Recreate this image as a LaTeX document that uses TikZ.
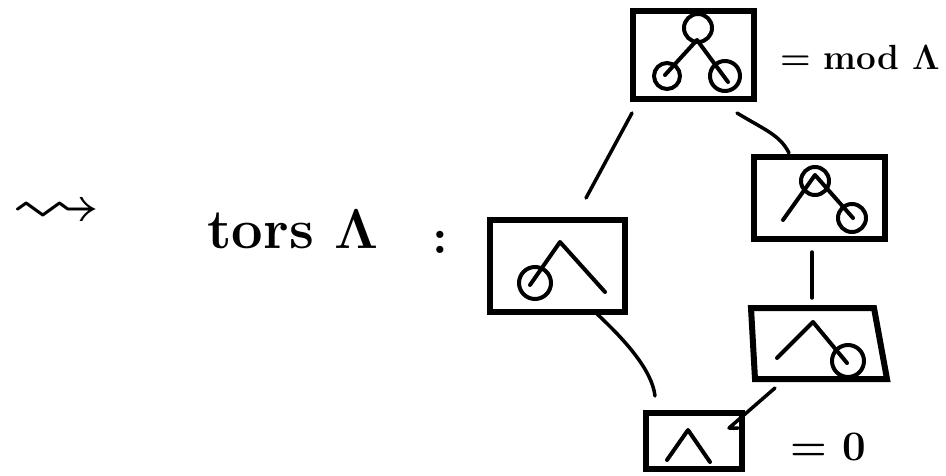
\documentclass[tikz,border=0pt]{standalone}
\usepackage{amssymb}
\begin{document}
\begin{tikzpicture}[x=1pt,y=-1pt,
  qbox/.style={draw, line width=6pt, inner sep=0pt, rectangle},
  ink/.style={line width=4pt, line cap=round, line join=round},
  conn/.style={line width=3.5pt, line cap=round, line join=round},
  lbl/.style={inner sep=0pt}]
\useasboundingbox[fill=white] (0,0) rectangle (946,476);

% boxes
\node[qbox, minimum width=121pt, minimum height=88pt] (top) at (693.5,55) {};
\node[qbox, minimum width=131pt, minimum height=82pt] (ru) at (819.5,198) {};
\node[qbox, minimum width=135pt, minimum height=92pt] (lb) at (557.5,266) {};
\node[qbox, minimum width=96pt, minimum height=56pt] (bot) at (694,441) {};
\coordinate (rl) at (819,343);
\draw[line width=6pt, line join=miter] (751,308) -- (874,308) -- (887,379) -- (755,379) -- cycle;

% quivers
\draw[ink] (665,75) -- (697,40) -- (728,82);
\draw[ink] (698,28) circle (14);
\draw[ink] (667,76) circle (13);
\draw[ink] (725,76) circle (15);

\draw[ink] (783,220) -- (815,175) -- (853,218);
\draw[ink] (815,181) circle (14);
\draw[ink] (852,218) circle (14);

\draw[ink] (530,285) -- (560,242) -- (605,292);
\draw[ink] (535,283) circle (16);

\draw[ink] (777,358) -- (813,322) -- (847,363);
\draw[ink] (848,361) circle (16);

\draw[ink] (667,460) -- (688,430) -- (710,462);

% connectors
\coordinate (c1a) at (632,113);
\coordinate (c1b) at (586,198);
\coordinate (c2a) at (737,113);
\coordinate (c2b) at (789,153);
\coordinate (c3a) at (812,252);
\coordinate (c3b) at (812,298);
\coordinate (c4a) at (596,313);
\coordinate (c4b) at (655,396);
\coordinate (c5a) at (775,388);
\coordinate (c5b) at (729,428);
\coordinate (c5c) at (738,428);
\draw[conn] (c1a) -- (c1b);
\draw[conn] (c2a) .. controls (765,130) and (780,135) .. (c2b);
\draw[conn] (c3a) -- (c3b);
\draw[conn] (c4a) .. controls (625,340) and (652,370) .. (c4b);
\draw[conn] (c5a) -- (c5b) -- (c5c);

% labels
\node[lbl] (sq) at (57,214) {\scalebox{1.5}[1.2]{\fontsize{60}{60}\selectfont$\rightsquigarrow$}};
\node[lbl, anchor=base west] (tors) at (207,248) {\bfseries\fontsize{56}{56}\selectfont tors Λ};
\node[lbl] (colon) at (440,242) {\bfseries\fontsize{50}{50}\selectfont :};
\node[lbl, anchor=base west] (modl) at (780,70) {\bfseries\fontsize{35}{35}\selectfont = mod Λ};
\node[lbl, anchor=base west] (zero) at (790,460) {\bfseries\fontsize{42}{42}\selectfont = 0};
\end{tikzpicture}
\end{document}
